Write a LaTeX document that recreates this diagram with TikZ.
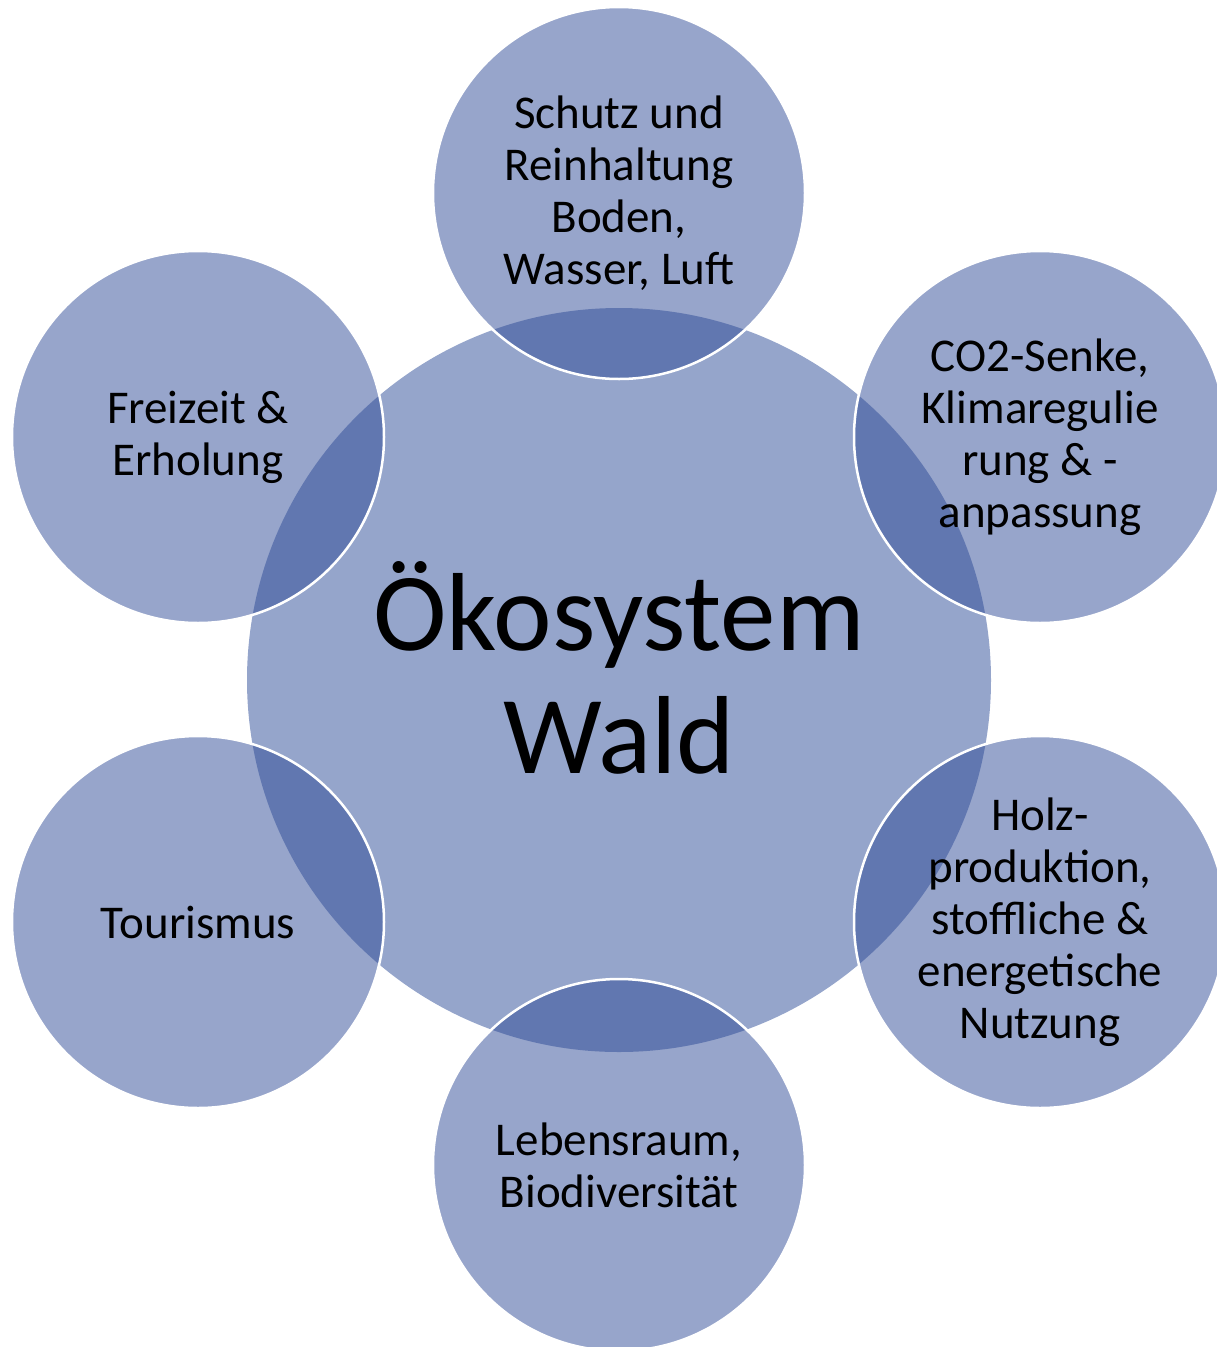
\documentclass[tikz,border=0pt]{standalone}
\usepackage{fontspec}
\setmainfont{Carlito}
\definecolor{hubfill}{HTML}{95A5CB}
\definecolor{satfill}{HTML}{2F4B97}
\tikzset{
  hub/.style={circle, fill=hubfill, minimum size=744pt, inner sep=0pt,
    font=\fontsize{111}{123}\selectfont, align=center, text=black},
  sat/.style={circle, fill=satfill, fill opacity=0.5, text opacity=1,
    draw=white, draw opacity=1, line width=2.5pt, minimum size=372pt, inner sep=0pt,
    font=\fontsize{47}{52}\selectfont, align=center, text=black}
}
\begin{document}
\begin{tikzpicture}[x=1pt,y=-1pt]
\useasboundingbox (0,0) rectangle (1217,1347);
\clip (0,0) rectangle (1217,1347);
\node[hub] (center) at (619,680) {};
\node (centertext) at (619,668) [font=\fontsize{111}{123}\selectfont, align=center, inner sep=0pt] {Ökosystem\\Wald};
\node[sat] (top) at (619,193) {Schutz und\\Reinhaltung\\Boden,\\Wasser, Luft};
\node[sat] (topright) at (1040,437) {CO2-Senke,\\Klimaregulie\\rung \& -\\anpassung};
\node[sat] (botright) at (1040,922) {Holz-\\produktion,\\stoffliche \&\\energetische\\Nutzung};
\node[sat] (bottom) at (619,1165) {Lebensraum,\\Biodiversität};
\node[sat] (botleft) at (198,922) {Tourismus};
\node[sat] (topleft) at (198,437) {Freizeit \&\\Erholung};
\end{tikzpicture}
\end{document}
